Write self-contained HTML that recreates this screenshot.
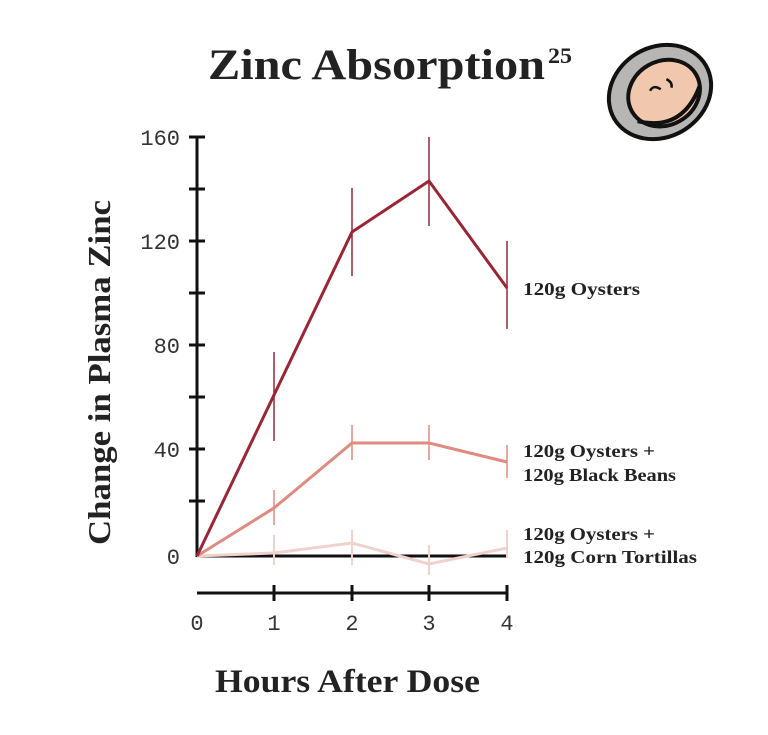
<!DOCTYPE html>
<html><head><meta charset="utf-8"><style>html,body{margin:0;padding:0;background:#fff}</style></head>
<body>
<svg width="768" height="730" viewBox="0 0 768 730" xmlns="http://www.w3.org/2000/svg">
<text x="208" y="79" textLength="337" lengthAdjust="spacingAndGlyphs" font-family="Liberation Serif, serif" font-weight="bold" font-size="43" fill="#222">Zinc Absorption</text>
<text x="548" y="63" textLength="24" lengthAdjust="spacingAndGlyphs" font-family="Liberation Serif, serif" font-weight="bold" font-size="22" fill="#222">25</text>
<!-- oyster -->
<g transform="translate(660,92) rotate(-30)">
<ellipse cx="0" cy="0" rx="53" ry="45" fill="#b8b6b5" stroke="#111" stroke-width="4"/>
<ellipse cx="3" cy="3" rx="37" ry="32" fill="#f1c7ad" stroke="#111" stroke-width="4"/>
<path d="M-34 14 Q0 46 38 14" fill="none" stroke="#111" stroke-width="4"/>
<path d="M-8 -6 q6 -4 10 4 M12 -8 q4 6 0 10" fill="none" stroke="#111" stroke-width="2.5"/>
</g>
<!-- y axis -->
<g stroke="#111" stroke-width="3">
<line x1="197" y1="137" x2="197" y2="557"/>
<line x1="189" y1="137" x2="205" y2="137"/><line x1="189" y1="241" x2="205" y2="241"/>
<line x1="189" y1="345" x2="205" y2="345"/><line x1="189" y1="449" x2="205" y2="449"/>
<line x1="189" y1="189" x2="205" y2="189"/><line x1="189" y1="293" x2="205" y2="293"/>
<line x1="189" y1="397" x2="205" y2="397"/><line x1="189" y1="501" x2="205" y2="501"/>
<line x1="197" y1="556" x2="507" y2="556"/>
<line x1="197" y1="593" x2="507" y2="593"/>
<line x1="274" y1="585" x2="274" y2="601"/><line x1="352" y1="585" x2="352" y2="601"/>
<line x1="429" y1="585" x2="429" y2="601"/><line x1="507" y1="585" x2="507" y2="601"/>
</g>
<g font-family="Liberation Mono, monospace" font-size="22" fill="#333" text-anchor="end">
<text x="180" y="145">160</text><text x="180" y="249">120</text><text x="180" y="353">80</text>
<text x="180" y="457">40</text><text x="180" y="564">0</text>
</g>
<g font-family="Liberation Mono, monospace" font-size="22" fill="#333" text-anchor="middle">
<text x="197" y="630">0</text><text x="274" y="630">1</text><text x="352" y="630">2</text><text x="429" y="630">3</text><text x="507" y="630">4</text>
</g>
<text x="215" y="692" textLength="265" lengthAdjust="spacingAndGlyphs" font-family="Liberation Serif, serif" font-weight="bold" font-size="33" fill="#222">Hours After Dose</text>
<text transform="translate(110,545) rotate(-90)" textLength="345" lengthAdjust="spacingAndGlyphs" font-family="Liberation Serif, serif" font-weight="bold" font-size="32" fill="#222">Change in Plasma Zinc</text>
<!-- tortillas -->
<g stroke="#f0d2cd" stroke-width="2" fill="none">
<line x1="274" y1="535" x2="274" y2="565"/><line x1="352" y1="530" x2="352" y2="565"/>
<line x1="429" y1="545" x2="429" y2="575"/><line x1="507" y1="530" x2="507" y2="558"/>
<polyline stroke-width="3" points="197,556 274,553 352,543 429,564 507,548"/>
</g>
<!-- beans -->
<g stroke="#e08a80" fill="none">
<line stroke-width="1.5" x1="274" y1="490" x2="274" y2="525"/><line stroke-width="1.5" x1="352" y1="425" x2="352" y2="460"/>
<line stroke-width="1.5" x1="429" y1="425" x2="429" y2="460"/><line stroke-width="1.5" x1="507" y1="445" x2="507" y2="478"/>
<polyline stroke-width="3" points="197,556 274,508 352,443 429,443 507,462"/>
</g>
<!-- oysters -->
<g stroke="#9b2535" fill="none">
<line stroke-width="1.5" x1="274" y1="352" x2="274" y2="441"/><line stroke-width="1.5" x1="352" y1="188" x2="352" y2="276"/>
<line stroke-width="1.5" x1="429" y1="137" x2="429" y2="226"/><line stroke-width="1.5" x1="507" y1="241" x2="507" y2="329"/>
<polyline stroke-width="3" points="197,556 274,395 352,232 429,181 507,288"/>
</g>
<g font-family="Liberation Serif, serif" font-weight="bold" font-size="18" fill="#222">
<text x="523" y="295" textLength="117" lengthAdjust="spacingAndGlyphs">120g Oysters</text>
<text x="523" y="457" textLength="132" lengthAdjust="spacingAndGlyphs">120g Oysters +</text>
<text x="523" y="481" textLength="153" lengthAdjust="spacingAndGlyphs">120g Black Beans</text>
<text x="523" y="540" textLength="132" lengthAdjust="spacingAndGlyphs">120g Oysters +</text>
<text x="523" y="563" textLength="174" lengthAdjust="spacingAndGlyphs">120g Corn Tortillas</text>
</g>
</svg>
</body></html>
